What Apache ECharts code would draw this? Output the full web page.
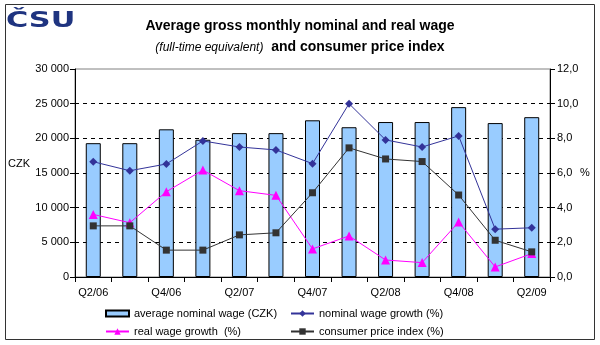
<!DOCTYPE html>
<html>
<head>
<meta charset="utf-8">
<script src="https://cdn.jsdelivr.net/npm/echarts@6/dist/echarts.min.js"></script>
<style>html,body{margin:0;padding:0;background:#fff}#c{width:600px;height:345px}</style>
</head>
<body>
<div id="c"></div>
<script>
var categories = ['Q2/06','Q3/06','Q4/06','Q1/07','Q2/07','Q3/07','Q4/07','Q1/08','Q2/08','Q3/08','Q4/08','Q1/09','Q2/09'];
var nominalWage = [19300, 19300, 21300, 19800, 20750, 20750, 22600, 21600, 22350, 22350, 24500, 22200, 23050];
var nominalGrowth = [6.65, 6.13, 6.52, 7.85, 7.5, 7.33, 6.54, 10.0, 7.91, 7.5, 8.14, 2.76, 2.84];
var realGrowth = [3.61, 3.13, 4.92, 6.17, 4.98, 4.71, 1.62, 2.37, 0.98, 0.83, 3.17, 0.58, 1.35];
var cpi = [2.95, 2.95, 1.55, 1.55, 2.43, 2.55, 4.86, 7.45, 6.81, 6.66, 4.73, 2.12, 1.45];
var leftTicks = [0, 5000, 10000, 15000, 20000, 25000, 30000];
var rightTicks = [0, 2, 4, 6, 8, 10, 12];

var FONT = '"Liberation Sans", Arial, sans-serif';
var chart = echarts.init(document.getElementById('c'), null, {renderer: 'canvas'});
var names = ['average nominal wage (CZK)', 'nominal wage growth (%)', 'real wage growth  (%)', 'consumer price index (%)'];
function lg(name, left, top, w, h, icon) {
  var o = {data: [name], left: left, top: top, itemWidth: w, itemHeight: h, itemGap: 5, padding: 0,
    selectedMode: false, textStyle: {fontFamily: FONT, fontSize: 11, color: '#000'}};
  if (icon) o.icon = icon;
  return o;
}
chart.setOption({
  animation: false,
  backgroundColor: '#fff',
  textStyle: {fontFamily: FONT},
  title: {
    left: 'center', top: 11,
    text: '{b|Average gross monthly nominal and real wage}\n{i|(full-time equivalent)}{b|  and consumer price index}',
    textStyle: {
      fontWeight: 'normal',
      rich: {
        b: {fontFamily: FONT, fontSize: 14, fontWeight: 'bold', color: '#000', lineHeight: 21},
        i: {fontFamily: FONT, fontSize: 12, fontWeight: 'normal', fontStyle: 'italic', color: '#000', lineHeight: 21}
      }
    }
  },
  graphic: [
    {type: 'rect', shape: {x: 5.5, y: 4.5, width: 589, height: 335}, style: {fill: 'none', stroke: '#333', lineWidth: 1}, silent: true},
    {type: 'text', x: 6, y: 10, scaleX: 1.38, silent: true,
      style: {text: 'ČSU', fontFamily: '"DejaVu Sans", sans-serif', fontWeight: 900, fontSize: 22, fill: '#1f3480', verticalAlign: 'top'}},
    {type: 'text', left: 8, top: 158, style: {text: 'CZK', fontFamily: FONT, fontSize: 11, fill: '#000'}},
    {type: 'text', left: 580, top: 167, style: {text: '%', fontFamily: FONT, fontSize: 11, fill: '#000'}}
  ],
  legend: [
    lg(names[0], 105, 308, 23, 6, 'rect'),
    lg(names[1], 290, 308, 23, 8),
    lg(names[2], 105, 326, 23, 8),
    lg(names[3], 290, 326, 23, 8)
  ],
  grid: {left: 75, right: 50, top: 69, bottom: 68, show: true, borderColor: '#808080', borderWidth: 1},
  xAxis: {
    type: 'category', data: categories,
    axisLine: {lineStyle: {color: '#000', width: 1}},
    axisTick: {show: true, interval: 0, length: 5, lineStyle: {color: '#000'}},
    axisLabel: {interval: 1, fontFamily: FONT, fontSize: 11, color: '#000', margin: 10}
  },
  yAxis: [
    {
      type: 'value', min: leftTicks[0], max: leftTicks[leftTicks.length - 1], interval: leftTicks[1] - leftTicks[0],
      axisLine: {show: true, lineStyle: {color: '#000'}},
      axisTick: {show: true, length: 5, lineStyle: {color: '#000'}},
      axisLabel: {fontFamily: FONT, fontSize: 11, color: '#000', margin: 6,
        formatter: function (v) { return String(v).replace(/\B(?=(\d{3})+(?!\d))/g, ' '); }},
      splitLine: {show: true, showMaxLine: false, showMinLine: false, lineStyle: {color: '#000', type: [4, 4], width: 1}}
    },
    {
      type: 'value', position: 'right', min: rightTicks[0], max: rightTicks[rightTicks.length - 1], interval: rightTicks[1] - rightTicks[0],
      axisLine: {show: true, lineStyle: {color: '#000'}},
      axisTick: {show: true, length: 5, lineStyle: {color: '#000'}},
      axisLabel: {fontFamily: FONT, fontSize: 11, color: '#000', margin: 7,
        formatter: function (v) { return v.toFixed(1).replace('.', ','); }},
      splitLine: {show: false}
    }
  ],
  series: [
    {name: names[0], type: 'bar', data: nominalWage, barWidth: 15, yAxisIndex: 0,
      itemStyle: {color: '#99ccff', borderColor: '#000', borderWidth: 1}},
    {name: names[1], type: 'line', data: nominalGrowth, yAxisIndex: 1, symbol: 'diamond', symbolSize: 8,
      lineStyle: {color: '#333399', width: 1}, itemStyle: {color: '#333399'}},
    {name: names[2], type: 'line', data: realGrowth, yAxisIndex: 1, symbol: 'triangle', symbolSize: 9,
      lineStyle: {color: '#ff00ff', width: 1}, itemStyle: {color: '#ff00ff'}},
    {name: names[3], type: 'line', data: cpi, yAxisIndex: 1, symbol: 'rect', symbolSize: 7,
      lineStyle: {color: '#333333', width: 1}, itemStyle: {color: '#333333'}}
  ]
});
</script>
</body>
</html>
